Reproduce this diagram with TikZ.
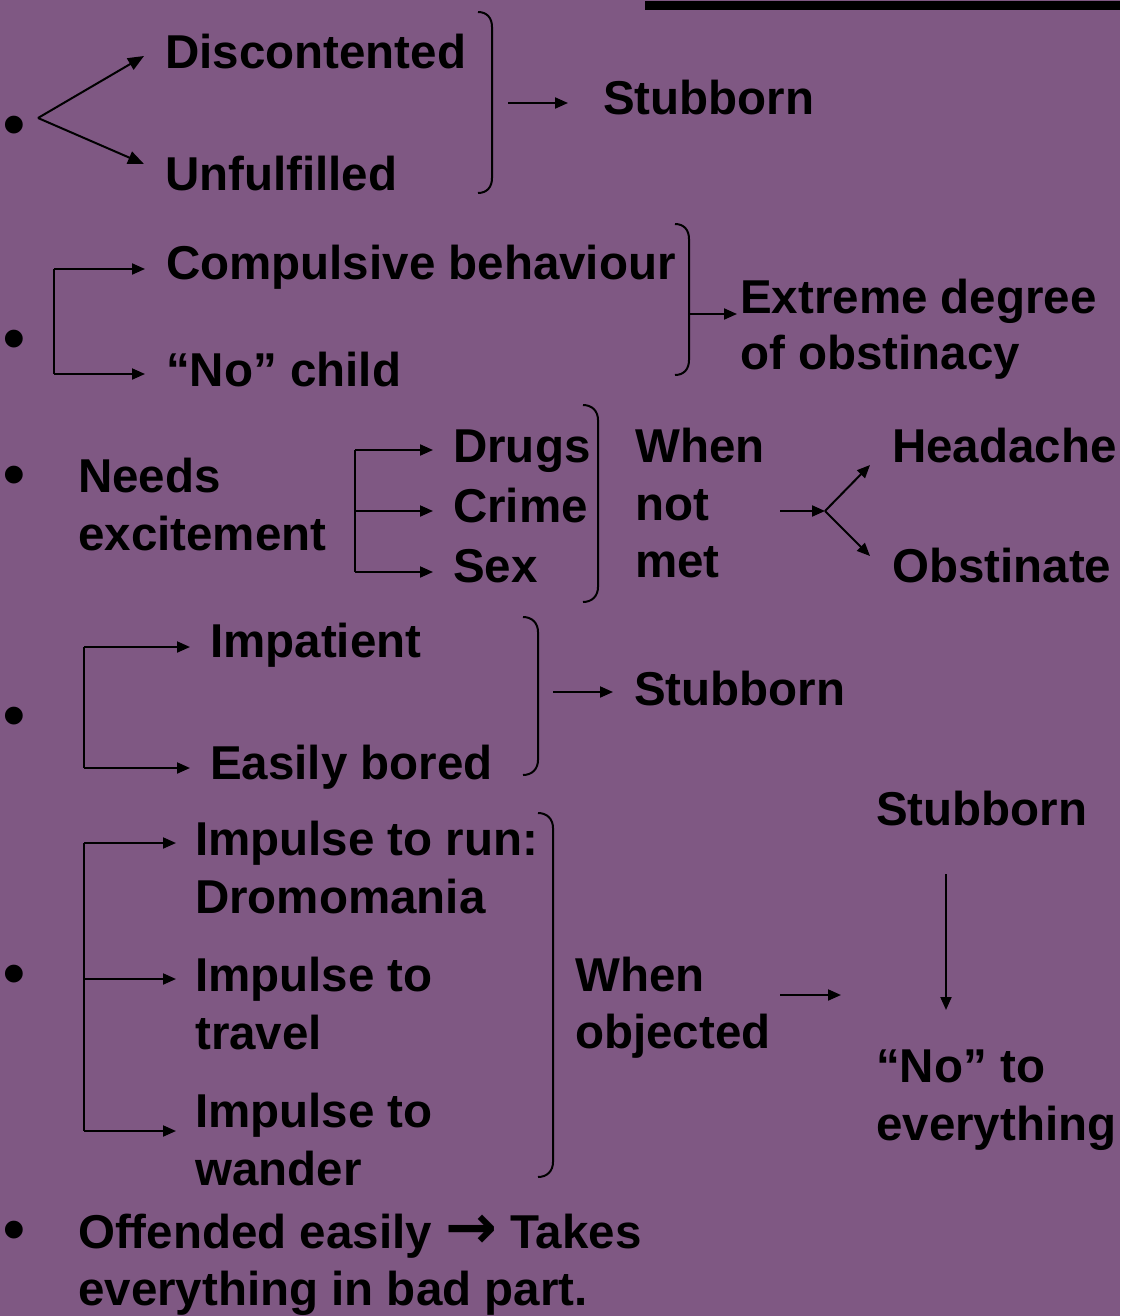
\documentclass[tikz,border=0pt]{standalone}
\usepackage{fontspec}
\setmainfont{Liberation Sans}
\newfontfamily\arrowfont{DejaVu Sans}
\usetikzlibrary{arrows.meta}
\definecolor{bgpurple}{RGB}{127,88,131}
\tikzset{
  txt/.style={anchor=base west, inner sep=0pt, font=\fontsize{47.5}{57}\selectfont\bfseries, text=black},
  bul/.style={anchor=base, inner sep=0pt, font=\fontsize{62}{62}\selectfont\bfseries, text=black},
  conn/.style={line width=2pt, draw=black, -{Triangle[length=13pt,width=11pt]}},
  bigconn/.style={line width=2pt, draw=black, -{Triangle[length=16pt,width=13pt]}},
  plain/.style={line width=2pt, draw=black},
  brk/.style={line width=2pt, draw=black, line join=round}
}
\newcommand{\rbrk}[4]{\draw[brk] (#1,#3) .. controls (#1+9,#3) and (#2,#3+6) .. (#2,#3+15) -- (#2,#4-15) .. controls (#2,#4-6) and (#1+9,#4) .. (#1,#4);}
\begin{document}
\begin{tikzpicture}[x=1pt,y=-1pt]
\fill[bgpurple] (0,0) rectangle (1120,1316);
\useasboundingbox (0,0) rectangle (1120,1316);
\fill[black] (645,1) rectangle (1120,10);

% bullets
\node[bul] (b1) at (14,146) {•};
\node[bul] (b2) at (14,359) {•};
\node[bul] (b3) at (14,495) {•};
\node[bul] (b4) at (14,736) {•};
\node[bul] (b5) at (14,994) {•};
\node[bul] (b6) at (14,1250) {•};

% ---- section 1
\node[txt] (disc) at (165,69) {Discontented};
\node[txt] (unful) at (165,190) {Unfulfilled};
\node[txt] (stub1) at (603,115) {Stubborn};
\coordinate (f1) at (38,118);
\coordinate (f1a) at (144,56);
\coordinate (f1b) at (144,164);
\draw[bigconn] (f1) -- (f1a);
\draw[bigconn] (f1) -- (f1b);
\rbrk{478}{492}{12}{193}
\coordinate (a1s) at (508,103);
\coordinate (a1e) at (568,103);
\draw[conn] (a1s) -- (a1e);

% ---- section 2
\node[txt] (comp) at (166,279) {Compulsive behaviour};
\node[txt] (nochild) at (166,386) {“No” child};
\node[txt] (ext1) at (740,313) {Extreme degree};
\node[txt] (ext2) at (740,369) {of obstinacy};
\coordinate (e2t) at (54,269);
\coordinate (e2b) at (54,374);
\coordinate (e2ta) at (145,269);
\coordinate (e2ba) at (145,374);
\draw[plain] (e2t) -- (e2b);
\draw[conn] (e2t) -- (e2ta);
\draw[conn] (e2b) -- (e2ba);
\rbrk{675}{689}{224}{375}
\coordinate (a2s) at (690,314);
\coordinate (a2e) at (737,314);
\draw[conn] (a2s) -- (a2e);

% ---- section 3
\node[txt] (needs) at (78,492) {Needs};
\node[txt] (excite) at (78,550) {excitement};
\node[txt] (drugs) at (453,462) {Drugs};
\node[txt] (crime) at (453,522) {Crime};
\node[txt] (sex) at (453,582) {Sex};
\node[txt] (when1) at (635,462) {When};
\node[txt] (not1) at (635,520) {not};
\node[txt] (met1) at (635,577) {met};
\node[txt] (head) at (892,462) {Headache};
\node[txt] (obst) at (892,582) {Obstinate};
\coordinate (e3t) at (355,450);
\coordinate (e3m) at (355,511);
\coordinate (e3b) at (355,572);
\coordinate (e3ta) at (433,450);
\coordinate (e3ma) at (433,511);
\coordinate (e3ba) at (433,572);
\draw[plain] (e3t) -- (e3b);
\draw[conn] (e3t) -- (e3ta);
\draw[conn] (e3m) -- (e3ma);
\draw[conn] (e3b) -- (e3ba);
\rbrk{583}{598}{405}{602}
\coordinate (a3s) at (780,511);
\coordinate (f3) at (825,511);
\coordinate (f3a) at (870,465);
\coordinate (f3b) at (870,556);
\draw[conn] (a3s) -- (f3);
\draw[conn] (f3) -- (f3a);
\draw[conn] (f3) -- (f3b);

% ---- section 4
\node[txt] (impat) at (210,657) {Impatient};
\node[txt] (bored) at (210,779) {Easily bored};
\node[txt] (stub2) at (634,705) {Stubborn};
\coordinate (e4t) at (84,647);
\coordinate (e4b) at (84,768);
\coordinate (e4ta) at (190,647);
\coordinate (e4ba) at (190,768);
\draw[plain] (e4t) -- (e4b);
\draw[conn] (e4t) -- (e4ta);
\draw[conn] (e4b) -- (e4ba);
\rbrk{523}{538}{617}{775}
\coordinate (a4s) at (553,692);
\coordinate (a4e) at (613,692);
\draw[conn] (a4s) -- (a4e);

% ---- section 5
\node[txt] (run1) at (195,855) {Impulse to run:};
\node[txt] (run2) at (195,913) {Dromomania};
\node[txt] (trav1) at (195,991) {Impulse to};
\node[txt] (trav2) at (195,1049) {travel};
\node[txt] (wand1) at (195,1127) {Impulse to};
\node[txt] (wand2) at (195,1185) {wander};
\node[txt] (when2) at (575,991) {When};
\node[txt] (obj) at (575,1048) {objected};
\node[txt] (stub3) at (876,825) {Stubborn};
\node[txt] (no1) at (876,1082) {“No” to};
\node[txt] (no2) at (876,1140) {everything};
\coordinate (e5t) at (84,843);
\coordinate (e5m) at (84,979);
\coordinate (e5b) at (84,1131);
\coordinate (e5ta) at (176,843);
\coordinate (e5ma) at (176,979);
\coordinate (e5ba) at (176,1131);
\draw[plain] (e5t) -- (e5b);
\draw[conn] (e5t) -- (e5ta);
\draw[conn] (e5m) -- (e5ma);
\draw[conn] (e5b) -- (e5ba);
\rbrk{538}{553}{813}{1177}
\coordinate (a5s) at (780,995);
\coordinate (a5e) at (841,995);
\draw[conn] (a5s) -- (a5e);
\coordinate (a6s) at (946,874);
\coordinate (a6e) at (946,1010);
\draw[conn] (a6s) -- (a6e);

% ---- section 6
\node[txt] (off1) at (78,1248) {Offended easily {\arrowfont\bfseries\fontsize{62}{62}\selectfont →} Takes};
\node[txt] (off2) at (78,1305) {everything in bad part.};
\end{tikzpicture}
\end{document}
